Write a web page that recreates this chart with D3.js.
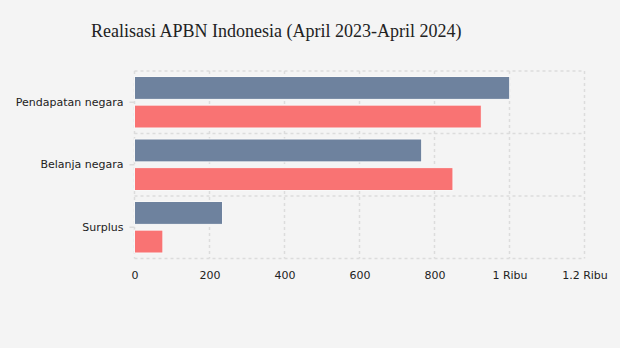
<!DOCTYPE html>
<html>
<head>
<meta charset="utf-8">
<script src="https://cdn.jsdelivr.net/npm/d3@7"></script>
<style>
body { margin: 0; background: #f4f4f4; }
</style>
</head>
<body>
<div class="canva"></div>
<script>
const categories = ["Pendapatan negara", "Belanja negara", "Surplus"];
const series = ["April 2023", "April 2024"];
const april2023 = [1000.5, 765.8, 234.7];
const april2024 = [924.9, 849.2, 75.7];
const xTicks = [0, 200, 400, 600, 800, 1000, 1200];
const xTickLabels = ["0", "200", "400", "600", "800", "1 Ribu", "1.2 Ribu"];
const colors = ["#6e829e", "#f97373"];

const width = 620, height = 348;
const plotLeft = 134.5, plotRight = 584.5, plotTop = 71, plotBottom = 258.5;

const svg = d3.select(".canva").append("svg")
  .attr("width", width)
  .attr("height", height)
  .style("background", "#f4f4f4")
  .style("display", "block");

svg.append("text")
  .text("Realisasi APBN Indonesia (April 2023-April 2024)")
  .attr("x", 91)
  .attr("y", 37)
  .attr("font-family", "Liberation Serif, Times New Roman, serif")
  .attr("font-size", 18)
  .attr("fill", "#222");

const x = d3.scaleLinear().domain([0, 1200]).range([plotLeft, plotRight]);
const y = d3.scaleBand().domain(categories).range([plotTop, plotBottom]).padding(0);
const ySub = d3.scaleBand().domain(series).range([5.5, y.bandwidth() - 5.5]).paddingInner(0.2);

// grid
const grid = svg.append("g")
  .attr("stroke", "#dcdcdc")
  .attr("stroke-width", 1.5)
  .attr("stroke-dasharray", "3,3")
  .attr("fill", "none");

grid.selectAll(".v")
  .data(xTicks)
  .join("line")
  .attr("x1", d => x(d)).attr("x2", d => x(d))
  .attr("y1", plotTop).attr("y2", plotBottom);

const hLines = categories.map(c => y(c)).concat([plotBottom]);
grid.selectAll(".h")
  .data(hLines)
  .join("line")
  .attr("x1", plotLeft).attr("x2", plotRight)
  .attr("y1", d => d).attr("y2", d => d);

// bars
const rows = categories.map((c, i) => ({ cat: c, vals: [april2023[i], april2024[i]] }));

const groups = svg.selectAll(".grp")
  .data(rows)
  .join("g")
  .attr("transform", d => `translate(0,${y(d.cat)})`);

groups.selectAll("rect")
  .data(d => d.vals.map((v, j) => ({ s: series[j], v: v, j: j })))
  .join("rect")
  .attr("x", x(0))
  .attr("y", d => ySub(d.s))
  .attr("width", d => x(d.v) - x(0))
  .attr("height", ySub.bandwidth())
  .attr("fill", d => colors[d.j])
  .attr("stroke", "#f8f8f8")
  .attr("stroke-width", 1);

// y axis labels
const yAxis = svg.append("g")
  .attr("transform", `translate(${plotLeft},0)`)
  .call(d3.axisLeft(y).tickSize(5).tickPadding(6));
yAxis.select(".domain").remove();
yAxis.selectAll("line").attr("stroke", "#dcdcdc").attr("stroke-width", 1.5);
yAxis.selectAll("text")
  .attr("font-family", "DejaVu Sans, Verdana, sans-serif")
  .attr("font-size", 11)
  .attr("fill", "#222");

// x axis labels
const xAxis = svg.append("g")
  .attr("transform", `translate(0,${plotBottom})`)
  .call(d3.axisBottom(x).tickValues(xTicks).tickFormat((d, i) => xTickLabels[i]).tickSize(0).tickPadding(13));
xAxis.select(".domain").remove();
xAxis.selectAll("text")
  .attr("font-family", "DejaVu Sans, Verdana, sans-serif")
  .attr("font-size", 11)
  .attr("fill", "#222");
</script>
</body>
</html>
